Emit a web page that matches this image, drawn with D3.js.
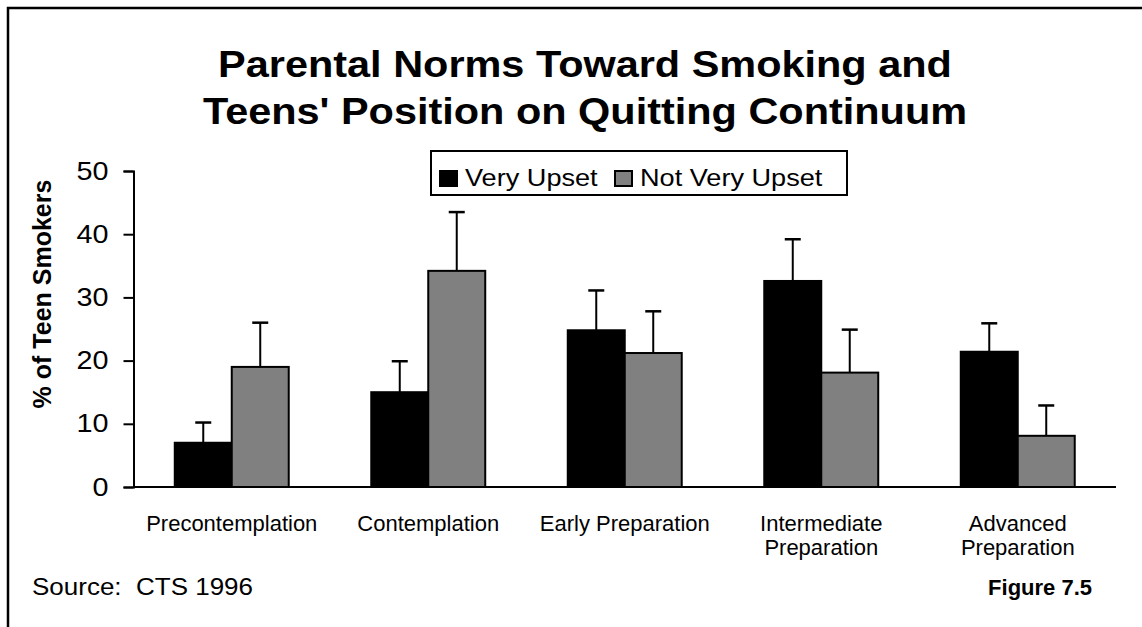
<!DOCTYPE html>
<html>
<head>
<meta charset="utf-8">
<script src="https://cdn.jsdelivr.net/npm/d3@7"></script>
<style>
  html, body { margin: 0; padding: 0; background: #fff; }
  svg { display: block; font-family: Arial, "Liberation Sans", sans-serif; }
  text { white-space: pre; }
</style>
</head>
<body>
<svg id="chart" width="1142" height="627"></svg>
<script>
const categories = ["Precontemplation", "Contemplation", "Early Preparation", "Intermediate Preparation", "Advanced Preparation"];
const categoryLines = [["Precontemplation"], ["Contemplation"], ["Early Preparation"], ["Intermediate", "Preparation"], ["Advanced", "Preparation"]];
const seriesNames = ["Very Upset", "Not Very Upset"];
const veryUpset = [7.0, 15.0, 24.8, 32.6, 21.4];
const veryUpsetErr = [3.2, 4.9, 6.3, 6.6, 4.5];
const notVeryUpset = [19.0, 34.2, 21.2, 18.1, 8.1];
const notVeryUpsetErr = [7.0, 9.3, 6.6, 6.8, 4.8];
const yTicks = [0, 10, 20, 30, 40, 50];
const titleLines = ["Parental Norms Toward Smoking and", "Teens' Position on Quitting Continuum"];
const yLabel = "% of Teen Smokers";
const sourceText = "Source:  CTS 1996";
const figureText = "Figure 7.5";

const colors = ["#000000", "#808080"];
const svg = d3.select("#chart");

// widen text horizontally (reference glyphs are slightly stretched)
function stretch(sel, f) {
  sel.each(function() {
    const w = this.getComputedTextLength();
    d3.select(this).attr("textLength", w * f).attr("lengthAdjust", "spacingAndGlyphs");
  });
}

// outer frame
svg.append("rect").attr("x", 8).attr("y", 8).attr("width", 1160).attr("height", 640)
  .attr("fill", "none").attr("stroke", "#000").attr("stroke-width", 2.5);

// title
svg.append("g").selectAll("text").data(titleLines).join("text")
  .attr("x", 585).attr("y", (d, i) => 77 + i * 47)
  .attr("text-anchor", "middle").attr("font-weight", "bold").attr("font-size", 37)
  .text(d => d)
  .call(stretch, 1.12);

const x0 = d3.scaleBand().domain(categories).range([133.5, 1116]).paddingInner(0.42).paddingOuter(0.21);
const x1 = d3.scaleBand().domain(seriesNames).range([0, x0.bandwidth()]);
const y = d3.scaleLinear().domain([0, 50]).range([487, 171]);

const rows = categories.map((c, i) => ({
  cat: c,
  vals: [
    { s: seriesNames[0], v: veryUpset[i], e: veryUpsetErr[i] },
    { s: seriesNames[1], v: notVeryUpset[i], e: notVeryUpsetErr[i] }
  ]
}));

const groups = svg.append("g").selectAll("g").data(rows).join("g")
  .attr("transform", d => `translate(${x0(d.cat)},0)`);

// error bars
groups.selectAll("g.err").data(d => d.vals).join("g").attr("class", "err")
  .each(function(d) {
    const g = d3.select(this);
    const cx = x1(d.s) + x1.bandwidth() / 2;
    g.append("line").attr("x1", cx).attr("x2", cx).attr("y1", y(d.v)).attr("y2", y(d.v + d.e))
      .attr("stroke", "#000").attr("stroke-width", 2);
    g.append("line").attr("x1", cx - 8).attr("x2", cx + 8).attr("y1", y(d.v + d.e)).attr("y2", y(d.v + d.e))
      .attr("stroke", "#000").attr("stroke-width", 2.5);
  });

groups.selectAll("rect").data(d => d.vals).join("rect")
  .attr("x", d => x1(d.s)).attr("width", x1.bandwidth())
  .attr("y", d => y(d.v)).attr("height", d => y(0) - y(d.v))
  .attr("fill", (d, i) => colors[i]).attr("stroke", "#000").attr("stroke-width", 2);

// y axis
const yAxis = svg.append("g").attr("transform", "translate(133.5,0)")
  .call(d3.axisLeft(y).tickValues(yTicks).tickSize(10).tickPadding(15).tickFormat(d3.format("d")));
yAxis.select(".domain").attr("stroke-width", 2);
yAxis.selectAll(".tick line").attr("stroke-width", 2);
yAxis.selectAll(".tick text").attr("font-size", 25).attr("font-family", "Arial, 'Liberation Sans', sans-serif").attr("fill", "#000")
  .call(stretch, 1.15);

// x baseline
svg.append("line").attr("x1", 133.5).attr("x2", 1116).attr("y1", y(0)).attr("y2", y(0))
  .attr("stroke", "#000").attr("stroke-width", 2);

// category labels
svg.append("g").selectAll("text").data(categories).join("text")
  .attr("text-anchor", "middle").attr("font-size", 22)
  .attr("transform", d => `translate(${x0(d) + x0.bandwidth() / 2},531)`)
  .each(function(d, i) {
    d3.select(this).selectAll("tspan").data(categoryLines[i]).join("tspan")
      .attr("x", 0).attr("dy", (t, j) => j === 0 ? 0 : 24).text(t => t);
  });

// y label
svg.append("text").attr("transform", "translate(51,294) rotate(-90)")
  .attr("text-anchor", "middle").attr("font-weight", "bold").attr("font-size", 25)
  .text(yLabel);

// legend
const legend = svg.append("g");
legend.append("rect").attr("x", 431).attr("y", 151).attr("width", 416).attr("height", 44)
  .attr("fill", "#fff").attr("stroke", "#000").attr("stroke-width", 2);
const legX = [440, 615];
seriesNames.forEach((s, i) => {
  legend.append("rect").attr("x", legX[i]).attr("y", 171).attr("width", 17).attr("height", 15)
    .attr("fill", colors[i]).attr("stroke", "#000").attr("stroke-width", 2);
  legend.append("text").attr("x", legX[i] + 25).attr("y", 186).attr("font-size", 24).text(s)
    .call(stretch, 1.13);
});

// footer
svg.append("text").attr("x", 32).attr("y", 595).attr("font-size", 23).text(sourceText)
  .call(stretch, 1.13);
svg.append("text").attr("x", 1092).attr("y", 595).attr("text-anchor", "end")
  .attr("font-size", 22).attr("font-weight", "bold").text(figureText);
</script>
</body>
</html>
